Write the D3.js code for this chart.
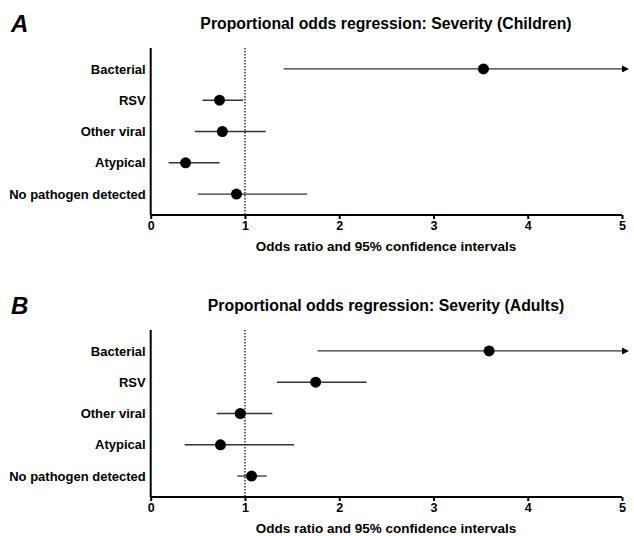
<!DOCTYPE html>
<html>
<head>
<meta charset="utf-8">
<script src="https://cdn.jsdelivr.net/npm/d3@7"></script>
<style>
  body { margin: 0; background: #fff; }
  text { font-family: "Liberation Sans", Arial, sans-serif; font-weight: bold; fill: #000; }
</style>
</head>
<body>
<div id="chart"></div>
<script>
const width = 634;
const height = 536;

// categories, top to bottom
const categories = ["Bacterial", "RSV", "Other viral", "Atypical", "No pathogen detected"];
const xTicks = [0, 1, 2, 3, 4, 5];

// Panel A - children (null upper = runs past the axis, drawn as arrow)
const childOR = [3.53, 0.73, 0.76, 0.37, 0.91];
const childLo = [1.41, 0.55, 0.47, 0.19, 0.50];
const childHi = [null, 0.98, 1.22, 0.73, 1.66];

// Panel B - adults
const adultOR = [3.59, 1.75, 0.95, 0.74, 1.07];
const adultLo = [1.77, 1.34, 0.70, 0.36, 0.92];
const adultHi = [null, 2.29, 1.29, 1.52, 1.23];

const svg = d3.select("#chart").append("svg")
    .attr("width", width)
    .attr("height", height);

// arrow head for open-ended intervals
svg.append("defs").append("marker")
    .attr("id", "arrow")
    .attr("viewBox", "0 0 10 10")
    .attr("refX", 0)
    .attr("refY", 5)
    .attr("markerWidth", 7)
    .attr("markerHeight", 7)
    .attr("markerUnits", "userSpaceOnUse")
    .attr("orient", "auto")
    .append("path")
    .attr("d", "M0,0L10,5L0,10Z")
    .attr("fill", "#000");

const x = d3.scaleLinear()
    .domain([0, 5])
    .range([150.7, 622]);

function drawPanel(top, letter, title, or, lo, hi) {
    const g = svg.append("g");
    const axisTop = top + 48;
    const axisBottom = top + 215;

    const y = d3.scalePoint()
        .domain(categories)
        .range([axisTop, axisBottom])
        .padding(0.67);

    // panel letter
    g.append("text")
        .attr("x", 11)
        .attr("y", top + 32)
        .style("font-size", "24px")
        .style("font-style", "italic")
        .text(letter);

    // title
    g.append("text")
        .attr("x", 386)
        .attr("y", top + 29)
        .attr("text-anchor", "middle")
        .style("font-size", "15.8px")
        .text(title);

    // reference line at OR = 1
    g.append("line")
        .attr("x1", x(1)).attr("x2", x(1))
        .attr("y1", axisTop).attr("y2", axisBottom)
        .attr("stroke", "#000")
        .attr("stroke-width", 1.2)
        .attr("stroke-dasharray", "1.5,1.5");

    // confidence intervals
    const rows = categories.map((c, i) => ({cat: c, or: or[i], lo: lo[i], hi: hi[i]}));

    g.selectAll(".ci")
        .data(rows)
        .enter().append("line")
        .attr("class", "ci")
        .attr("x1", d => x(d.lo))
        .attr("x2", d => d.hi === null ? x(5) : x(d.hi))
        .attr("y1", d => y(d.cat))
        .attr("y2", d => y(d.cat))
        .attr("stroke", "#333")
        .attr("stroke-width", 1.3)
        .attr("marker-end", d => d.hi === null ? "url(#arrow)" : null);

    g.selectAll(".pt")
        .data(rows)
        .enter().append("circle")
        .attr("class", "pt")
        .attr("cx", d => x(d.or))
        .attr("cy", d => y(d.cat))
        .attr("r", 5.5)
        .attr("fill", "#000");

    // axes
    const yAxis = d3.axisLeft(y).tickSize(0).tickPadding(5);
    const gy = g.append("g")
        .attr("transform", `translate(${x(0)},0)`)
        .call(yAxis);
    gy.select(".domain").attr("stroke-width", 2).attr("d", `M0,${axisTop}V${axisBottom}`);
    gy.selectAll("text").style("font-size", "13px");

    const xAxis = d3.axisBottom(x).tickValues(xTicks).tickSize(4).tickPadding(2).tickFormat(d3.format("d"));
    const gx = g.append("g")
        .attr("transform", `translate(0,${axisBottom})`)
        .call(xAxis);
    gx.select(".domain").attr("stroke-width", 2).attr("d", `M${x(0)},0H${x(5)}`);
    gx.selectAll(".tick line").attr("stroke-width", 2);
    gx.selectAll("text").style("font-size", "12.5px");

    g.append("text")
        .attr("x", 386)
        .attr("y", axisBottom + 36)
        .attr("text-anchor", "middle")
        .style("font-size", "13.5px")
        .text("Odds ratio and 95% confidence intervals");
}

drawPanel(0, "A", "Proportional odds regression: Severity (Children)", childOR, childLo, childHi);
drawPanel(282, "B", "Proportional odds regression: Severity (Adults)", adultOR, adultLo, adultHi);
</script>
</body>
</html>
